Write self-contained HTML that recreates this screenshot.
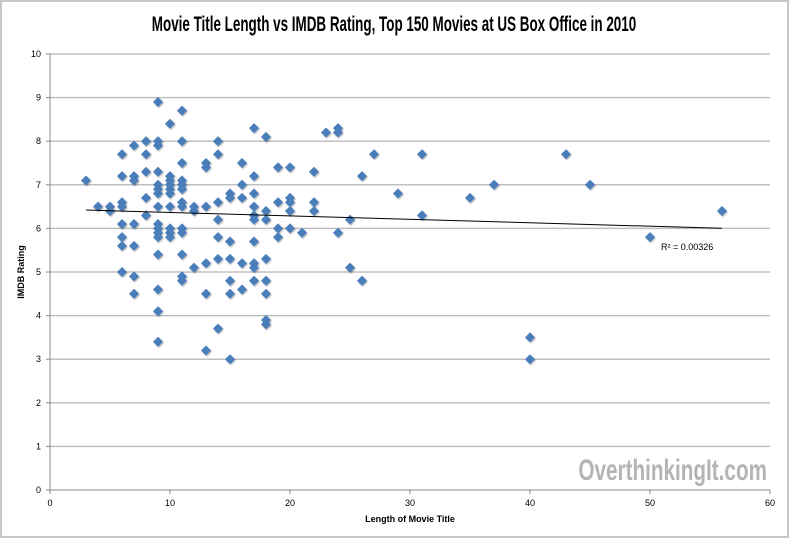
<!DOCTYPE html>
<html><head><meta charset="utf-8"><style>
html,body{margin:0;padding:0;background:#fff;}
#wrap{position:relative;width:789px;height:538px;box-sizing:border-box;border:2px solid #c8c8c8;background:#fff;overflow:hidden;}
svg{position:absolute;left:-2px;top:-2px;}
</style></head><body>
<div id="wrap">
<svg id="chart" width="789" height="538">
<defs><filter id="sh" x="-50%" y="-50%" width="200%" height="200%"><feDropShadow dx="0.8" dy="1" stdDeviation="0.8" flood-color="#000" flood-opacity="0.35"/></filter></defs>
<text x="394" y="31" text-anchor="middle" font-family="'Liberation Sans Narrow','Liberation Sans',sans-serif" font-weight="bold" font-size="21" fill="#000" transform="translate(394,0) scale(0.64,1) translate(-394,0)">Movie Title Length vs IMDB Rating, Top 150 Movies at US Box Office in 2010</text>
<g id="grid"></g>
<g id="axes"></g>
<g id="points"></g>
<g id="trend"></g>
<text x="24" y="272" text-anchor="middle" transform="rotate(-90,24,272)" font-family="'Liberation Sans',sans-serif" font-weight="bold" font-size="9" fill="#000">IMDB Rating</text>
<text x="410" y="522" text-anchor="middle" font-family="'Liberation Sans',sans-serif" font-weight="bold" font-size="9" fill="#000">Length of Movie Title</text>
<text x="661" y="250" font-family="'Liberation Sans',sans-serif" font-size="9" fill="#000">R² = 0.00326</text>
<text x="767" y="480" text-anchor="end" font-family="'Liberation Sans Narrow','Liberation Sans',sans-serif" font-weight="bold" font-size="30" fill="#b4b4b4" transform="translate(767,0) scale(0.69,1) translate(-767,0)">OverthinkingIt.com</text>
</svg>
</div>
<script>
const xTicks=[0,10,20,30,40,50,60];
const yTicks=[0,1,2,3,4,5,6,7,8,9,10];
const titleLengths=[3,4,5,5,6,6,6,6,6,6,6,6,7,7,7,7,7,7,7,8,8,8,8,8,
9,9,9,9,9,9,9,9,9,9,9,9,9,9,9,9,
10,10,10,10,10,10,10,10,10,10,
11,11,11,11,11,11,11,11,11,11,11,11,11,
12,12,12,13,13,13,13,13,13,14,14,14,14,14,14,14,
15,15,15,15,15,15,15,16,16,16,16,16,
17,17,17,17,17,17,17,17,17,17,
18,18,18,18,18,18,18,18,19,19,19,19,20,20,20,20,20,21,22,22,22,23,24,24,24,25,25,26,26,27,29,31,31,35,37,40,40,43,45,50,56];
const ratings=[7.1,6.5,6.5,6.4,7.7,7.2,6.6,6.5,6.1,5.8,5.6,5.0,7.9,7.2,7.1,6.1,5.6,4.9,4.5,8.0,7.7,7.3,6.7,6.3,
8.9,8.0,7.9,7.3,7.0,6.9,6.8,6.5,6.1,6.0,5.9,5.8,5.4,4.6,4.1,3.4,
8.4,7.2,7.1,7.0,6.9,6.8,6.5,6.0,5.9,5.8,
8.7,8.0,7.5,7.1,7.0,6.9,6.6,6.5,6.0,5.9,5.4,4.9,4.8,
6.5,6.4,5.1,7.5,7.4,6.5,5.2,4.5,3.2,8.0,7.7,6.6,6.2,5.8,5.3,3.7,
6.8,6.7,5.7,5.3,4.8,4.5,3.0,7.5,7.0,6.7,5.2,4.6,
8.3,7.2,6.8,6.5,6.3,6.2,5.7,5.2,5.1,4.8,
8.1,6.4,6.2,5.3,4.8,4.5,3.9,3.8,7.4,6.6,6.0,5.8,7.4,6.7,6.6,6.4,6.0,5.9,7.3,6.6,6.4,8.2,8.3,8.2,5.9,6.2,5.1,7.2,4.8,7.7,6.8,7.7,6.3,6.7,7.0,3.5,3.0,7.7,7.0,5.8,6.4];
const trendIntercept=6.445;
const trendSlope=-0.0079;
const trendRange=[3,56];

const NS='http://www.w3.org/2000/svg';
const X0=50,X1=770,Y0=490,Y1=54;
function sx(v){return X0+(v-0)/(60-0)*(X1-X0);}
function sy(v){return Y0-(v-0)/(10-0)*(Y0-Y1);}
function mk(tag,attrs,parent){const e=document.createElementNS(NS,tag);for(const k in attrs)e.setAttribute(k,attrs[k]);parent.appendChild(e);return e;}
const grid=document.getElementById('grid'),axes=document.getElementById('axes'),pts=document.getElementById('points'),tr=document.getElementById('trend');
yTicks.forEach(t=>{
  if(t>0){const l=mk('line',{x1:X0,x2:X1,y1:sy(t),y2:sy(t),stroke:'#bfbfbf','stroke-width':1.5},grid);
  
  }
  const tk=mk('line',{x1:X0-4,x2:X0,y1:sy(t),y2:sy(t),stroke:'#888','stroke-width':1},axes);
  
  
  const tx=mk('text',{x:X0-9,y:sy(t)+3,'text-anchor':'end','font-family':"'Liberation Sans',sans-serif",'font-size':9,fill:'#000'},axes);
  tx.textContent=t;
  
  
});
xTicks.forEach(t=>{
  const tk=mk('line',{x1:sx(t),x2:sx(t),y1:Y0,y2:Y0+4,stroke:'#888','stroke-width':1},axes);
  
  
  const tx=mk('text',{x:sx(t),y:Y0+16,'text-anchor':'middle','font-family':"'Liberation Sans',sans-serif",'font-size':9,fill:'#000'},axes);
  tx.textContent=t;
  
  
});
const ya=mk('line',{x1:X0,x2:X0,y1:Y1,y2:Y0,stroke:'#888','stroke-width':1},axes);


const xa=mk('line',{x1:X0,x2:X1,y1:Y0,y2:Y0,stroke:'#888','stroke-width':1},axes);


titleLengths.forEach((x,i)=>{
  const cx=sx(x),cy=sy(ratings[i]),r=5;
  const p=mk('polygon',{points:`${cx},${cy-r} ${cx+r},${cy} ${cx},${cy+r} ${cx-r},${cy}`,fill:'#4a7ebb',filter:'url(#sh)'},pts);
  
  
});
const tl=mk('line',{x1:sx(trendRange[0]),y1:sy(trendIntercept+trendSlope*trendRange[0]),x2:sx(trendRange[1]),y2:sy(trendIntercept+trendSlope*trendRange[1]),stroke:'#000','stroke-width':1},tr);


</script>
</body></html>
